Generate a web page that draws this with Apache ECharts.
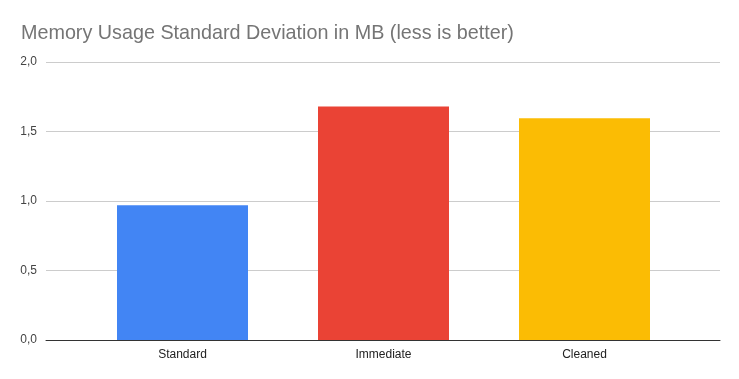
<!DOCTYPE html>
<html>
<head>
<meta charset="utf-8">
<script src="https://cdn.jsdelivr.net/npm/echarts@6/dist/echarts.min.js"></script>
<style>html,body{margin:0;padding:0;background:#fff}#c{width:739px;height:379px}</style>
</head>
<body>
<div id="c"></div>
<script>
const categories = ["Standard", "Immediate", "Cleaned"];
const values = [0.97, 1.68, 1.595];
const colors = ["#4285f4", "#ea4335", "#fbbc04"];
const yTicks = [0, 0.5, 1.0, 1.5, 2.0];

const chart = echarts.init(document.getElementById('c'));
const font = "Liberation Sans, Arial, sans-serif";
chart.setOption({
  animation: false,
  title: {
    text: "Memory Usage Standard Deviation in MB (less is better)",
    left: 16, top: 19,
    textStyle: {color: "#757575", fontSize: 19.75, fontWeight: "normal", fontFamily: font}
  },
  grid: [
    {left: 46, right: 19, top: 62, bottom: 39},
    {left: 82, right: 54, top: 62, bottom: 39}
  ],
  xAxis: [
    {gridIndex: 0, type: "category", data: categories, axisTick: {show: false}, axisLabel: {show: false},
     axisLine: {lineStyle: {color: "#333", width: 1}}},
    {gridIndex: 1, type: "category", data: categories, axisTick: {show: false}, axisLine: {show: false},
     axisLabel: {color: "#222", fontSize: 12, fontFamily: font, margin: 9}}
  ],
  yAxis: [
    {gridIndex: 0, type: "value", min: yTicks[0], max: yTicks[yTicks.length-1], interval: 0.5,
     axisLabel: {color: "#444", fontSize: 12, fontFamily: font, margin: 9,
       formatter: v => v.toFixed(1).replace(".", ",")},
     splitLine: {lineStyle: {color: "#cccccc"}}, axisLine: {show: false}, axisTick: {show: false}},
    {gridIndex: 1, type: "value", min: yTicks[0], max: yTicks[yTicks.length-1], interval: 0.5,
     show: false, splitLine: {show: false}}
  ],
  series: [{
    type: "bar", xAxisIndex: 1, yAxisIndex: 1, barWidth: 131,
    data: values.map((v, i) => ({value: v, itemStyle: {color: colors[i]}}))
  }]
});
</script>
</body>
</html>
